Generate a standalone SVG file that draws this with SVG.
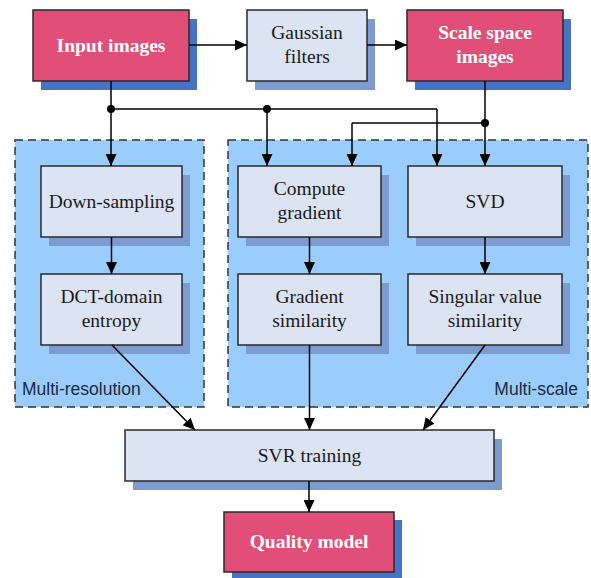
<svg xmlns="http://www.w3.org/2000/svg" width="591" height="578" viewBox="0 0 591 578">
  <defs>
    <marker id="arrow" viewBox="0 0 12 11" refX="12" refY="5.5" markerWidth="12" markerHeight="11" markerUnits="userSpaceOnUse" orient="auto">
      <path d="M0,0 L12,5.5 L0,11 z" fill="#000"/>
    </marker>
  </defs>
  <style>
    .area { fill: #9BCDFC; stroke: #333; stroke-width: 1.5; stroke-dasharray: 8 5; }
    .hot { fill: #E14F78; stroke: #2a2a2a; stroke-width: 1.5; }
    .hot-shadow { fill: #4673C3; }
    .box { fill: #DCE3F2; stroke: #2a2a2a; stroke-width: 1.5; }
    .box-shadow { fill: #7E9BCF; }
    .t { font-family: "Liberation Serif", "Times New Roman", serif; font-size: 19.5px; fill: #1a1a1a; text-anchor: middle; }
    .tb { font-family: "Liberation Serif", "Times New Roman", serif; font-size: 19.5px; font-weight: bold; fill: #fff; text-anchor: middle; }
    .lbl { font-family: "Liberation Sans", Arial, sans-serif; font-size: 17.5px; fill: #1a2a40; }
    .wire { fill: none; stroke: #000; stroke-width: 1.5; }
    .arr { fill: none; stroke: #000; stroke-width: 1.5; marker-end: url(#arrow); }
  </style>

  <!-- dashed processing regions -->
  <g id="multi-resolution">
    <rect class="area" x="15" y="140" width="189" height="267"/>
    <text class="lbl" x="22" y="395">Multi-resolution</text>
  </g>
  <g id="multi-scale">
    <rect class="area" x="228" y="140" width="360" height="267"/>
    <text class="lbl" x="578" y="395" text-anchor="end">Multi-scale</text>
  </g>

  <!-- nodes -->
  <g id="input-images">
    <rect class="hot-shadow" x="41" y="19" width="156" height="71"/>
    <rect class="hot" x="33" y="10" width="156" height="71"/>
    <text class="tb" x="111" y="52">Input images</text>
  </g>
  <g id="gaussian-filters">
    <rect class="box-shadow" x="255" y="19" width="120" height="71"/>
    <rect class="box" x="247" y="10" width="120" height="71"/>
    <text class="t" x="307" y="39">Gaussian</text>
    <text class="t" x="307" y="63">filters</text>
  </g>
  <g id="scale-space-images">
    <rect class="hot-shadow" x="415" y="19" width="156" height="71"/>
    <rect class="hot" x="407" y="10" width="156" height="71"/>
    <text class="tb" x="485" y="39">Scale space</text>
    <text class="tb" x="485" y="63">images</text>
  </g>
  <g id="down-sampling">
    <rect class="box-shadow" x="49" y="175" width="141" height="71"/>
    <rect class="box" x="41" y="166" width="141" height="71"/>
    <text class="t" x="111.5" y="208">Down-sampling</text>
  </g>
  <g id="dct-entropy">
    <rect class="box-shadow" x="49" y="283" width="141" height="71"/>
    <rect class="box" x="41" y="274" width="141" height="71"/>
    <text class="t" x="111.5" y="303">DCT-domain</text>
    <text class="t" x="111.5" y="327">entropy</text>
  </g>
  <g id="compute-gradient">
    <rect class="box-shadow" x="246" y="175" width="143" height="71"/>
    <rect class="box" x="238" y="166" width="143" height="71"/>
    <text class="t" x="309.5" y="195">Compute</text>
    <text class="t" x="309.5" y="219">gradient</text>
  </g>
  <g id="svd">
    <rect class="box-shadow" x="416" y="175" width="154" height="71"/>
    <rect class="box" x="408" y="166" width="154" height="71"/>
    <text class="t" x="485" y="208">SVD</text>
  </g>
  <g id="gradient-similarity">
    <rect class="box-shadow" x="246" y="283" width="143" height="71"/>
    <rect class="box" x="238" y="274" width="143" height="71"/>
    <text class="t" x="309.5" y="303">Gradient</text>
    <text class="t" x="309.5" y="327">similarity</text>
  </g>
  <g id="singular-value-similarity">
    <rect class="box-shadow" x="416" y="283" width="154" height="71"/>
    <rect class="box" x="408" y="274" width="154" height="71"/>
    <text class="t" x="485" y="303">Singular value</text>
    <text class="t" x="485" y="327">similarity</text>
  </g>
  <g id="svr-training">
    <rect class="box-shadow" x="133" y="439" width="369" height="51"/>
    <rect class="box" x="125" y="430" width="369" height="51"/>
    <text class="t" x="309.5" y="462">SVR training</text>
  </g>
  <g id="quality-model">
    <rect class="hot-shadow" x="232" y="520" width="170" height="60"/>
    <rect class="hot" x="224" y="512" width="170" height="60"/>
    <text class="tb" x="309" y="548">Quality model</text>
  </g>

  <!-- connectors -->
  <g id="connectors">
    <path class="arr" d="M189,45 H247"/>
    <path class="arr" d="M367,45 H407"/>
    <path class="wire" d="M111,81 V109 H437"/>
    <path class="arr" d="M437,109 V166"/>
    <path class="arr" d="M111,109 V166"/>
    <path class="arr" d="M267,109 V166"/>
    <path class="arr" d="M485,81 V166"/>
    <path class="wire" d="M485,123 H352"/>
    <path class="arr" d="M352,123 V166"/>
    <path class="arr" d="M111.5,237 V274"/>
    <path class="arr" d="M309.5,237 V274"/>
    <path class="arr" d="M485,237 V274"/>
    <path class="arr" d="M112,345 L195,430"/>
    <path class="arr" d="M309.5,345 V430"/>
    <path class="arr" d="M485,345 L423,430"/>
    <path class="arr" d="M309,481 V512"/>
    <circle cx="111" cy="109" r="4" fill="#000"/>
    <circle cx="267" cy="109" r="4" fill="#000"/>
    <circle cx="485" cy="123" r="4" fill="#000"/>
  </g>
</svg>
